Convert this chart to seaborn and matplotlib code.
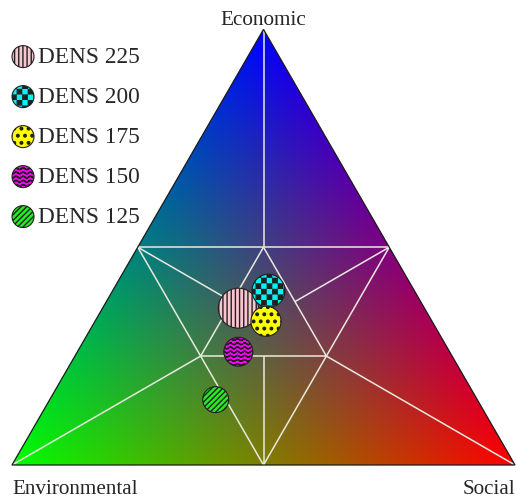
import warnings
import numpy as np
import pandas as pd
import matplotlib
matplotlib.use('Agg')
import matplotlib.pyplot as plt
import seaborn as sns
from matplotlib import hatch as mhatch
from matplotlib.path import Path
from matplotlib.patches import Polygon
from matplotlib.collections import PathCollection
from matplotlib.legend_handler import HandlerPathCollection

warnings.filterwarnings('ignore')

# Data: ternary position of each density scenario (Economic, Environmental, Social)
labels = ['DENS 225', 'DENS 200', 'DENS 175', 'DENS 150', 'DENS 125']
economic = [0.36, 0.40, 0.33, 0.26, 0.15]
environmental = [0.37, 0.29, 0.33, 0.42, 0.52]
social = [0.27, 0.31, 0.34, 0.32, 0.33]
bubble_size = [830, 565, 470, 435, 350]

colors = ['#f7c6cf', '#00f5f5', '#ffff00', '#ff00ff', '#22ee22']
hatches = ['||||', 'ccc', 'dd', '~~~~', '//////']


# Extra hatch patterns: checkerboard ('c'), waves ('~'), big dots ('d')
class CheckerHatch(mhatch.HatchPatternBase):
    def __init__(self, hatch, density):
        self.n = hatch.count('c') * density
        self.cells = [(i, j) for i in range(self.n) for j in range(self.n)
                      if (i + j) % 2 == 0]
        self.num_vertices = 5 * len(self.cells)

    def set_vertices_and_codes(self, vertices, codes):
        d = 1.0 / self.n
        e = 0.006  # shrink a bit, the hatch is stroked as well
        k = 0
        for i, j in self.cells:
            x0, y0 = i * d + e, j * d + e
            x1, y1 = (i + 1) * d - e, (j + 1) * d - e
            vertices[k:k + 5] = [(x0, y0), (x1, y0), (x1, y1), (x0, y1), (x0, y0)]
            codes[k:k + 5] = [Path.MOVETO, Path.LINETO, Path.LINETO,
                              Path.LINETO, Path.CLOSEPOLY]
            k += 5


class WaveHatch(mhatch.HatchPatternBase):
    npts = 85

    def __init__(self, hatch, density):
        self.rows = hatch.count('~') * density
        self.num_vertices = self.rows * (2 * self.npts - 1)

    def set_vertices_and_codes(self, vertices, codes):
        t = np.linspace(0, 1, self.npts)
        m = 2 * self.npts - 1
        k = 0
        for r in range(self.rows):
            y = (r + 0.5) / self.rows + 0.009 * np.sin(2 * np.pi * 14 * t)
            # go there and back again so nothing gets filled
            vertices[k:k + m, 0] = np.concatenate([t, t[-2::-1]])
            vertices[k:k + m, 1] = np.concatenate([y, y[-2::-1]])
            codes[k] = Path.MOVETO
            codes[k + 1:k + m] = Path.LINETO
            k += m


class BigDots(mhatch.Circles):
    size = 0.18
    filled = True

    def __init__(self, hatch, density):
        self.num_rows = hatch.count('d') * 7
        super().__init__(hatch, density)


mhatch._hatch_types.extend([CheckerHatch, WaveHatch, BigDots])

H = np.sqrt(3) / 2


def to_xy(e, en, s):
    e, s = np.asarray(e), np.asarray(s)
    return 0.5 * e + s, e * H


df = pd.DataFrame({'label': labels, 'Economic': economic,
                   'Environmental': environmental, 'Social': social,
                   'size': bubble_size})
df['x'], df['y'] = to_xy(df['Economic'], df['Environmental'], df['Social'])

sns.set_style('white')
plt.rcParams['font.family'] = ['Liberation Serif', 'DejaVu Serif']
plt.rcParams['hatch.linewidth'] = 1.0

fig = plt.figure(figsize=(5.16, 4.99), dpi=100)
ax = fig.add_axes([0, 0, 1, 1])
ax.set_axis_off()

# RGB gradient: red = Social, green = Environmental, blue = Economic
gx, gy = np.meshgrid(np.linspace(0, 1, 700), np.linspace(0, H, 610))
E = gy / H
S = gx - 0.5 * E
En = 1 - E - S
rgb = np.clip(np.dstack([S, En, E]), 0, 1)

top, left, right = (0.5, H), (0.0, 0.0), (1.0, 0.0)
tri = Polygon([left, right, top], closed=True, facecolor='none',
              edgecolor='#1a1a1a', lw=0.9, zorder=2)
im = ax.imshow(rgb, origin='lower', extent=(0, 1, 0, H), interpolation='bilinear', zorder=0)
ax.add_patch(tri)
im.set_clip_path(tri)


def mid(a, b):
    return ((a[0] + b[0]) / 2, (a[1] + b[1]) / 2)


ML, MR, MB = mid(top, left), mid(top, right), mid(left, right)
A, B, C = mid(ML, MR), mid(ML, MB), mid(MR, MB)
segments = [(ML, MR), (MR, MB), (MB, ML), (A, B), (B, C), (C, A),
            (top, A), (left, B), (right, C),
            (ML, mid(A, B)), (MR, mid(A, C)), (MB, mid(B, C))]
for p, q in segments:
    ax.plot([p[0], q[0]], [p[1], q[1]], color='#e9e9df', lw=1.1, zorder=1,
            solid_capstyle='butt')

# bubbles
handles = []
for i, row in df.iterrows():
    sns.scatterplot(x=[row['x']], y=[row['y']], s=row['size'], color=colors[i],
                    edgecolor='#202020', linewidth=0.8, ax=ax, label=row['label'],
                    zorder=3 + i, legend=False)
    coll = ax.collections[-1]
    coll.set_hatch(hatches[i])
    handles.append(coll)

ax.set_xlim(-12 / 503, 504 / 503)
ax.set_ylim(-34 / 503, 465 / 503)
ax.set_aspect('auto')

ax.legend(handles=handles, labels=labels, loc='upper left',
          bbox_to_anchor=(0.022, 0.907), frameon=False,
          prop={'family': 'Liberation Serif', 'size': 16.8},
          handler_map={PathCollection: HandlerPathCollection(sizes=[250])},
          handlelength=1.0, handletextpad=0.15, labelspacing=0.8,
          borderpad=0, borderaxespad=0)

ax.text(0.5, 0.875, 'Economic', ha='center', va='baseline', fontsize=15.3)
ax.text(0.0, -0.058, 'Environmental', ha='left', va='baseline', fontsize=15.2)
ax.text(1.0, -0.058, 'Social', ha='right', va='baseline', fontsize=15.2)

fig.savefig('out.png', dpi=100)
